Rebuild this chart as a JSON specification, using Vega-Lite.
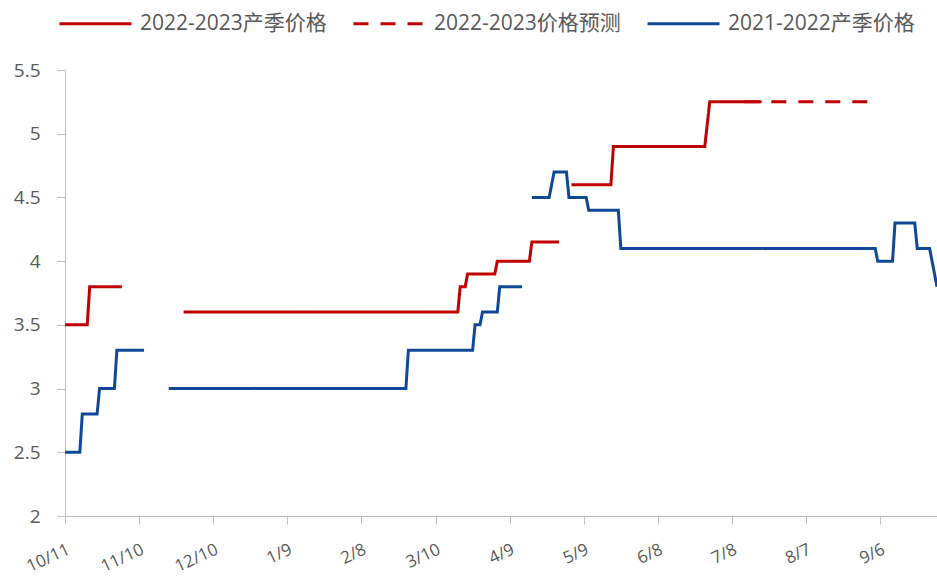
{
  "$schema": "https://vega.github.io/schema/vega-lite/v6.json",
  "autosize": "none",
  "width": 872,
  "height": 446,
  "padding": {"left": 65, "top": 70, "right": 0, "bottom": 60},
  "background": "white",
  "config": {"view": {"stroke": null}, "font": "Open Sans"},
  "data": {
    "values": [
      {"d": "2021-10-11", "v": 3.5, "s": "2022-2023产季价格", "g": "r1"},
      {"d": "2021-10-20", "v": 3.5, "s": "2022-2023产季价格", "g": "r1"},
      {"d": "2021-10-21", "v": 3.8, "s": "2022-2023产季价格", "g": "r1"},
      {"d": "2021-11-03", "v": 3.8, "s": "2022-2023产季价格", "g": "r1"},
      {"d": "2021-11-28", "v": 3.6, "s": "2022-2023产季价格", "g": "r2"},
      {"d": "2022-03-19", "v": 3.6, "s": "2022-2023产季价格", "g": "r2"},
      {"d": "2022-03-20", "v": 3.8, "s": "2022-2023产季价格", "g": "r2"},
      {"d": "2022-03-22", "v": 3.8, "s": "2022-2023产季价格", "g": "r2"},
      {"d": "2022-03-23", "v": 3.9, "s": "2022-2023产季价格", "g": "r2"},
      {"d": "2022-04-03", "v": 3.9, "s": "2022-2023产季价格", "g": "r2"},
      {"d": "2022-04-04", "v": 4.0, "s": "2022-2023产季价格", "g": "r2"},
      {"d": "2022-04-17", "v": 4.0, "s": "2022-2023产季价格", "g": "r2"},
      {"d": "2022-04-18", "v": 4.15, "s": "2022-2023产季价格", "g": "r2"},
      {"d": "2022-04-29", "v": 4.15, "s": "2022-2023产季价格", "g": "r2"},
      {"d": "2022-05-04", "v": 4.6, "s": "2022-2023产季价格", "g": "r3"},
      {"d": "2022-05-20", "v": 4.6, "s": "2022-2023产季价格", "g": "r3"},
      {"d": "2022-05-21", "v": 4.9, "s": "2022-2023产季价格", "g": "r3"},
      {"d": "2022-06-27", "v": 4.9, "s": "2022-2023产季价格", "g": "r3"},
      {"d": "2022-06-29", "v": 5.25, "s": "2022-2023产季价格", "g": "r3"},
      {"d": "2022-07-20", "v": 5.25, "s": "2022-2023产季价格", "g": "r3"},
      {"d": "2022-07-13", "v": 5.25, "s": "2022-2023价格预测", "g": "f1"},
      {"d": "2022-09-02", "v": 5.25, "s": "2022-2023价格预测", "g": "f1"},
      {"d": "2021-10-11", "v": 2.5, "s": "2021-2022产季价格", "g": "b1"},
      {"d": "2021-10-17", "v": 2.5, "s": "2021-2022产季价格", "g": "b1"},
      {"d": "2021-10-18", "v": 2.8, "s": "2021-2022产季价格", "g": "b1"},
      {"d": "2021-10-24", "v": 2.8, "s": "2021-2022产季价格", "g": "b1"},
      {"d": "2021-10-25", "v": 3.0, "s": "2021-2022产季价格", "g": "b1"},
      {"d": "2021-10-31", "v": 3.0, "s": "2021-2022产季价格", "g": "b1"},
      {"d": "2021-11-01", "v": 3.3, "s": "2021-2022产季价格", "g": "b1"},
      {"d": "2021-11-12", "v": 3.3, "s": "2021-2022产季价格", "g": "b1"},
      {"d": "2021-11-22", "v": 3.0, "s": "2021-2022产季价格", "g": "b2"},
      {"d": "2022-02-26", "v": 3.0, "s": "2021-2022产季价格", "g": "b2"},
      {"d": "2022-02-27", "v": 3.3, "s": "2021-2022产季价格", "g": "b2"},
      {"d": "2022-03-25", "v": 3.3, "s": "2021-2022产季价格", "g": "b2"},
      {"d": "2022-03-26", "v": 3.5, "s": "2021-2022产季价格", "g": "b2"},
      {"d": "2022-03-28", "v": 3.5, "s": "2021-2022产季价格", "g": "b2"},
      {"d": "2022-03-29", "v": 3.6, "s": "2021-2022产季价格", "g": "b2"},
      {"d": "2022-04-04", "v": 3.6, "s": "2021-2022产季价格", "g": "b2"},
      {"d": "2022-04-05", "v": 3.8, "s": "2021-2022产季价格", "g": "b2"},
      {"d": "2022-04-14", "v": 3.8, "s": "2021-2022产季价格", "g": "b2"},
      {"d": "2022-04-18", "v": 4.5, "s": "2021-2022产季价格", "g": "b3"},
      {"d": "2022-04-25", "v": 4.5, "s": "2021-2022产季价格", "g": "b3"},
      {"d": "2022-04-27", "v": 4.7, "s": "2021-2022产季价格", "g": "b3"},
      {"d": "2022-05-02", "v": 4.7, "s": "2021-2022产季价格", "g": "b3"},
      {"d": "2022-05-03", "v": 4.5, "s": "2021-2022产季价格", "g": "b3"},
      {"d": "2022-05-10", "v": 4.5, "s": "2021-2022产季价格", "g": "b3"},
      {"d": "2022-05-11", "v": 4.4, "s": "2021-2022产季价格", "g": "b3"},
      {"d": "2022-05-23", "v": 4.4, "s": "2021-2022产季价格", "g": "b3"},
      {"d": "2022-05-24", "v": 4.1, "s": "2021-2022产季价格", "g": "b3"},
      {"d": "2022-09-04", "v": 4.1, "s": "2021-2022产季价格", "g": "b3"},
      {"d": "2022-09-05", "v": 4.0, "s": "2021-2022产季价格", "g": "b3"},
      {"d": "2022-09-11", "v": 4.0, "s": "2021-2022产季价格", "g": "b3"},
      {"d": "2022-09-12", "v": 4.3, "s": "2021-2022产季价格", "g": "b3"},
      {"d": "2022-09-20", "v": 4.3, "s": "2021-2022产季价格", "g": "b3"},
      {"d": "2022-09-21", "v": 4.1, "s": "2021-2022产季价格", "g": "b3"},
      {"d": "2022-09-26", "v": 4.1, "s": "2021-2022产季价格", "g": "b3"},
      {"d": "2022-09-29", "v": 3.8, "s": "2021-2022产季价格", "g": "b3"}
    ]
  },
  "mark": {"type": "line", "strokeWidth": 3, "clip": true, "strokeCap": "butt"},
  "encoding": {
    "x": {
      "field": "d",
      "type": "temporal",
      "scale": {"type": "utc", "domain": [{"year": 2021, "month": 10, "date": 11, "utc": true}, {"year": 2022, "month": 9, "date": 29, "utc": true}]},
      "axis": {
        "title": null,
        "grid": false,
        "values": [
          {"year": 2021, "month": 10, "date": 11, "utc": true},
          {"year": 2021, "month": 11, "date": 10, "utc": true},
          {"year": 2021, "month": 12, "date": 10, "utc": true},
          {"year": 2022, "month": 1, "date": 9, "utc": true},
          {"year": 2022, "month": 2, "date": 8, "utc": true},
          {"year": 2022, "month": 3, "date": 10, "utc": true},
          {"year": 2022, "month": 4, "date": 9, "utc": true},
          {"year": 2022, "month": 5, "date": 9, "utc": true},
          {"year": 2022, "month": 6, "date": 8, "utc": true},
          {"year": 2022, "month": 7, "date": 8, "utc": true},
          {"year": 2022, "month": 8, "date": 7, "utc": true},
          {"year": 2022, "month": 9, "date": 6, "utc": true}
        ],
        "format": "%-m/%-d",
        "labelAngle": -25,
        "labelAlign": "right",
        "labelBaseline": "top",
        "labelPadding": 17,
        "labelDx": 4,
        "labelFontSize": 17,
        "labelColor": "#595959",
        "labelFont": "Open Sans",
        "domainColor": "#BFBFBF",
        "tickColor": "#BFBFBF",
        "tickSize": 8,
        "labelOverlap": false,
        "labelFlush": false
      }
    },
    "y": {
      "field": "v",
      "type": "quantitative",
      "scale": {"domain": [2, 5.5], "nice": false, "zero": false},
      "axis": {
        "title": null,
        "grid": false,
        "values": [2, 2.5, 3, 3.5, 4, 4.5, 5, 5.5],
        "format": "~g",
        "labelFontSize": 19,
        "labelColor": "#595959",
        "labelFont": "Open Sans",
        "labelPadding": 17,
        "domainColor": "#BFBFBF",
        "tickColor": "#BFBFBF",
        "tickSize": 8
      }
    },
    "color": {
      "field": "s",
      "type": "nominal",
      "scale": {
        "domain": ["2022-2023产季价格", "2022-2023价格预测", "2021-2022产季价格"],
        "range": ["#C00000", "#C00000", "#0F4896"]
      },
      "legend": {
        "title": null,
        "orient": "none",
        "direction": "horizontal",
        "legendX": -7,
        "legendY": -84,
        "symbolType": "stroke",
        "symbolSize": 5184,
        "symbolStrokeWidth": 3,
        "labelFontSize": 21,
        "labelColor": "#595959",
        "labelFont": "Open Sans, Noto Sans CJK SC",
        "labelOffset": 7,
        "columnPadding": 20,
        "labelLimit": 400
      }
    },
    "strokeDash": {
      "field": "s",
      "type": "nominal",
      "scale": {
        "domain": ["2022-2023产季价格", "2022-2023价格预测", "2021-2022产季价格"],
        "range": [[1, 0], [15, 12], [1, 0]]
      },
      "legend": null
    },
    "detail": {"field": "g", "type": "nominal"}
  }
}
